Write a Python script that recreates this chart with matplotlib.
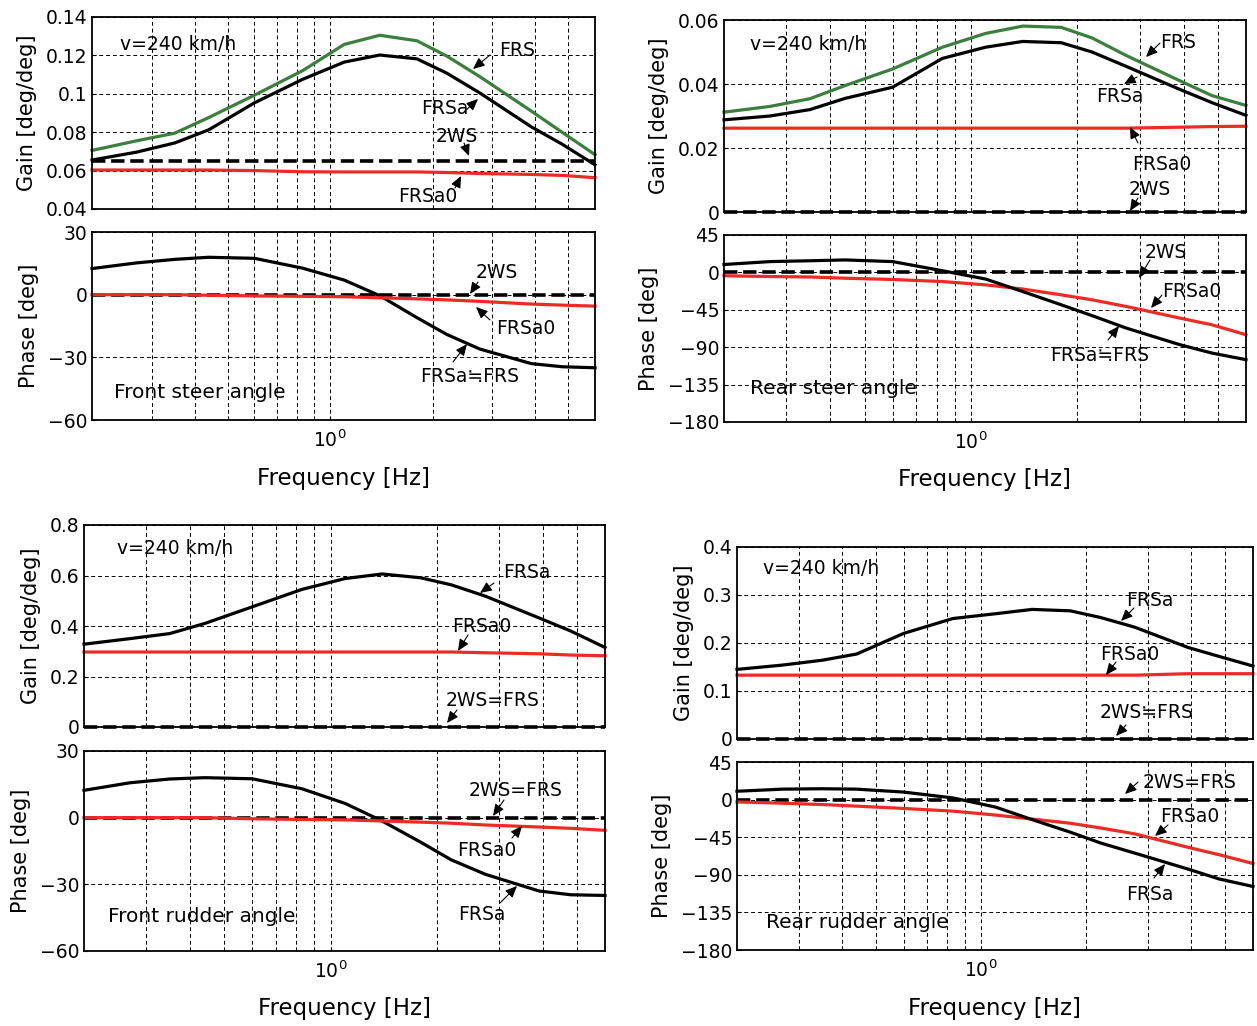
import numpy as np
import matplotlib.pyplot as plt
from matplotlib.ticker import FixedLocator, NullFormatter

plt.rcParams['font.family'] = ['DejaVu Sans', 'Noto Sans CJK JP']

W, H = 1257, 1026

freq = [0.2, 0.27, 0.35, 0.44, 0.6, 0.83, 1.1, 1.4, 1.8, 2.2, 2.75, 3.9, 4.8, 6.0]

# front steer angle
fs_gain_frs = [0.0705, 0.0755, 0.0795, 0.0876, 0.0993, 0.112, 0.1257, 0.1305, 0.1276, 0.1197, 0.109, 0.091, 0.080, 0.0683]
fs_gain_frsa = [0.0655, 0.0696, 0.0744, 0.0812, 0.0953, 0.1075, 0.1165, 0.1202, 0.1182, 0.1108, 0.1005, 0.0828, 0.0738, 0.063]
fs_gain_frsa0 = [0.0603, 0.0603, 0.0603, 0.0603, 0.0600, 0.0594, 0.0593, 0.0593, 0.0593, 0.0590, 0.0585, 0.058, 0.0575, 0.0563]
fs_gain_2ws = [0.065] * 14
fs_phase_frsa = [12.5, 15.2, 16.9, 17.9, 17.4, 12.7, 7.0, -0.5, -11.0, -19.0, -26.0, -33.0, -34.5, -35.0]
fs_phase_frsa0 = [0, 0, 0, -0.3, -0.6, -0.8, -1.0, -1.5, -2.0, -2.5, -3.2, -4.5, -5.0, -5.5]
fs_phase_2ws = [0] * 14

# rear steer angle
rs_gain_frs = [0.0312, 0.033, 0.0354, 0.0395, 0.0447, 0.0515, 0.0558, 0.0581, 0.0577, 0.0544, 0.0489, 0.041, 0.0364, 0.0333]
rs_gain_frsa = [0.0288, 0.030, 0.032, 0.0355, 0.039, 0.048, 0.0515, 0.0533, 0.0529, 0.050, 0.0455, 0.0383, 0.0342, 0.0302]
rs_gain_frsa0 = [0.0262] * 11 + [0.0265, 0.0267, 0.0268]
rs_gain_2ws = [0] * 14
rs_phase_frsa = [9.5, 13, 14, 15, 13, 2, -8, -23, -39, -52, -67, -87, -97, -105]
rs_phase_frsa0 = [-4, -5, -5.5, -7, -8.5, -11, -15, -20, -27, -33, -41, -55, -63, -75]
rs_phase_2ws = [0] * 14

# front rudder angle
fr_gain_frsa = [0.328, 0.35, 0.37, 0.41, 0.476, 0.545, 0.588, 0.606, 0.591, 0.563, 0.518, 0.432, 0.38, 0.315]
fr_gain_frsa0 = [0.297] * 10 + [0.294, 0.29, 0.285, 0.282]
fr_gain_2ws = [0] * 14
fr_phase_frsa = [12.3, 15.7, 17.4, 18.0, 17.5, 13.0, 6.4, -1.5, -11.0, -19.0, -25.5, -33.0, -34.7, -35.0]
fr_phase_frsa0 = [0, 0, 0, 0, -0.5, -0.8, -1.0, -1.5, -2.0, -2.5, -3.3, -4.2, -4.8, -5.7]
fr_phase_2ws = [0] * 14

# rear rudder angle
rr_gain_frsa = [0.145, 0.154, 0.164, 0.177, 0.22, 0.251, 0.261, 0.27, 0.267, 0.253, 0.233, 0.191, 0.172, 0.152]
rr_gain_frsa0 = [0.133] * 11 + [0.136] * 3
rr_gain_2ws = [0] * 14
rr_phase_frsa = [10, 12.5, 13, 12.5, 9, 2, -9, -24, -39, -52, -64, -83, -95, -104]
rr_phase_frsa0 = [-2.8, -4.3, -5.9, -7.8, -10.6, -13.8, -18.5, -23.3, -28.3, -34, -41, -57, -66, -76.5]
rr_phase_2ws = [0] * 14

GREEN = '#3a7f3c'
RED = '#ee2a24'


def rect(l, r, t, b):
    return [l / W, 1 - b / H, (r - l) / W, (b - t) / H]


def px(x, y):
    return (x / W, 1 - y / H)


def style_axes(ax, ylim, yticks, ylabels, ylabel):
    ax.set_xscale('log')
    ax.set_xlim(0.2, 6)
    ax.set_ylim(*ylim)
    ax.set_yticks(yticks)
    ax.set_yticklabels(ylabels)
    ax.xaxis.set_major_locator(FixedLocator([1]))
    ax.xaxis.set_minor_locator(FixedLocator([0.3, 0.4, 0.5, 0.6, 0.7, 0.8, 0.9, 2, 3, 4, 5]))
    ax.xaxis.set_minor_formatter(NullFormatter())
    ax.grid(True, which='both', ls=(0, (4, 3)), lw=0.7, color='k')
    ax.tick_params(which='both', direction='in', labelsize=13.5, length=3)
    ax.set_ylabel(ylabel, fontsize=15, labelpad=6)
    for s in ax.spines.values():
        s.set_linewidth(1.3)


fig = plt.figure(figsize=(W / 100, H / 100), dpi=100)

panels = [
    dict(g=rect(92, 595, 17, 209), p=rect(92, 595, 232, 420),
         glim=(0.04, 0.14), gticks=[0.04, 0.06, 0.08, 0.1, 0.12, 0.14],
         glabels=['0.04', '0.06', '0.08', '0.1', '0.12', '0.14'],
         plim=(-60, 30), pticks=[-60, -30, 0, 30],
         gain=[(fs_gain_2ws, 'k', '--'), (fs_gain_frs, GREEN, '-'), (fs_gain_frsa, 'k', '-'), (fs_gain_frsa0, RED, '-')],
         phase=[(fs_phase_2ws, 'k', '--'), (fs_phase_frsa, 'k', '-'), (fs_phase_frsa0, RED, '-')]),
    dict(g=rect(724, 1246, 20, 212), p=rect(724, 1246, 235, 422),
         glim=(0, 0.06), gticks=[0, 0.02, 0.04, 0.06],
         glabels=['0', '0.02', '0.04', '0.06'],
         plim=(-180, 45), pticks=[-180, -135, -90, -45, 0, 45],
         gain=[(rs_gain_2ws, 'k', '--'), (rs_gain_frs, GREEN, '-'), (rs_gain_frsa, 'k', '-'), (rs_gain_frsa0, RED, '-')],
         phase=[(rs_phase_2ws, 'k', '--'), (rs_phase_frsa0, RED, '-'), (rs_phase_frsa, 'k', '-')]),
    dict(g=rect(84, 605, 525, 727), p=rect(84, 605, 751, 951),
         glim=(0, 0.8), gticks=[0, 0.2, 0.4, 0.6, 0.8],
         glabels=['0', '0.2', '0.4', '0.6', '0.8'],
         plim=(-60, 30), pticks=[-60, -30, 0, 30],
         gain=[(fr_gain_2ws, 'k', '--'), (fr_gain_frsa, 'k', '-'), (fr_gain_frsa0, RED, '-')],
         phase=[(fr_phase_2ws, 'k', '--'), (fr_phase_frsa, 'k', '-'), (fr_phase_frsa0, RED, '-')]),
    dict(g=rect(737, 1253, 547, 739), p=rect(737, 1253, 762, 950),
         glim=(0, 0.4), gticks=[0, 0.1, 0.2, 0.3, 0.4],
         glabels=['0', '0.1', '0.2', '0.3', '0.4'],
         plim=(-180, 45), pticks=[-180, -135, -90, -45, 0, 45],
         gain=[(rr_gain_2ws, 'k', '--'), (rr_gain_frsa, 'k', '-'), (rr_gain_frsa0, RED, '-')],
         phase=[(rr_phase_2ws, 'k', '--'), (rr_phase_frsa0, RED, '-'), (rr_phase_frsa, 'k', '-')]),
]

for pn in panels:
    axg = fig.add_axes(pn['g'])
    axp = fig.add_axes(pn['p'])
    for y, c, ls in pn['gain']:
        axg.plot(freq, y, color=c, ls=ls, lw=2.3 if ls == '-' else 2.6, clip_on=False)
    for y, c, ls in pn['phase']:
        axp.plot(freq, y, color=c, ls=ls, lw=2.3 if ls == '-' else 2.6, clip_on=False)
    style_axes(axg, pn['glim'], pn['gticks'], pn['glabels'], 'Gain [deg/deg]')
    axg.set_xticklabels([])
    style_axes(axp, pn['plim'], pn['pticks'], [str(t).replace('-', '\u2212') for t in pn['pticks']], 'Phase [deg]')
    axp.set_xticklabels(['$10^{0}$'])
    axp.tick_params(axis='x', pad=7)
    axp.set_xlabel('Frequency [Hz]', fontsize=16.5, labelpad=11)

# text labels and arrows, in pixel positions of the picture
texts = [
    ('v=240 km/h', 120, 44), ('v=240 km/h', 750, 44),
    ('v=240 km/h', 117, 549), ('v=240 km/h', 763, 568),
    ('Front steer angle', 114, 393), ('Rear steer angle', 750, 389),
    ('Front rudder angle', 108, 917), ('Rear rudder angle', 766, 922),
]
for s, x, y in texts:
    fig.text(*px(x, y), s, fontsize=14.5 if 'v=' not in s else 13.5, ha='left', va='center')

notes = [
    ('FRS', 517, 50, 490, 55, 473, 69),
    ('FRSa', 445, 109, 464, 112, 478, 99),
    ('2WS', 457, 137, 464, 143, 469, 156),
    ('FRSa0', 428, 196, 455, 188, 461, 176),
    ('2WS', 497, 272, 478, 282, 470, 294),
    ('FRSa0', 526, 328, 490, 320, 476, 307),
    ('FRSa\u2252FRS', 470, 377, 453, 362, 467, 344),
    ('FRS', 1178, 42, 1160, 43, 1146, 57),
    ('FRSa', 1120, 97, 1137, 77, 1124, 84),
    ('FRSa0', 1162, 165, 1138, 143, 1130, 127),
    ('2WS', 1150, 190, 1138, 198, 1130, 211),
    ('2WS', 1166, 253, 1150, 260, 1139, 278),
    ('FRSa0', 1192, 291, 1162, 295, 1151, 308),
    ('FRSa\u2252FRS', 1100, 355, 1108, 340, 1119, 326),
    ('FRSa', 527, 573, 494, 583, 480, 593),
    ('FRSa0', 482, 627, 468, 635, 458, 651),
    ('2WS=FRS', 493, 700, 457, 710, 447, 723),
    ('2WS=FRS', 516, 790, 504, 800, 493, 816),
    ('FRSa0', 487, 850, 512, 838, 522, 826),
    ('FRSa', 482, 915, 500, 903, 517, 886),
    ('FRSa', 1150, 600, 1134, 608, 1121, 621),
    ('FRSa0', 1130, 655, 1116, 662, 1106, 675),
    ('2WS\u2252FRS', 1147, 713, 1126, 725, 1116, 736),
    ('2WS=FRS', 1190, 782, 1138, 782, 1125, 794),
    ('FRSa0', 1190, 817, 1168, 825, 1155, 836),
    ('FRSa', 1150, 895, 1154, 878, 1165, 864),
]
for s, tx, ty, x0, y0, x1, y1 in notes:
    fig.text(*px(tx, ty), s, fontsize=13.5, ha='center', va='center')
    fig.add_artist(plt.Annotation('', xy=px(x1, y1), xytext=px(x0, y0),
                                  xycoords='figure fraction', textcoords='figure fraction',
                                  arrowprops=dict(arrowstyle='-|>,head_length=0.5,head_width=0.22',
                                                  color='k', lw=0.8,
                                                  mutation_scale=14, shrinkA=0, shrinkB=0)))

fig.savefig('out.png', dpi=100)
